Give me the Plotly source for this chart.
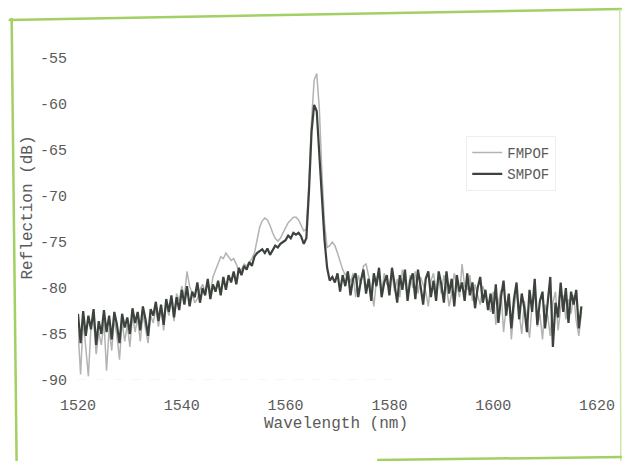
import plotly.graph_objects as go

# ---- data ----
wl_start = 1520.0
wl_step = 0.5

smpof = [
    -82.8, -86.0, -82.5, -85.2, -83.0, -84.5, -82.3, -86.2, -83.6, -85.0,
    -82.4, -84.8, -83.0, -85.6, -82.6, -84.0, -86.0, -82.8, -84.3, -83.2,
    -85.0, -82.2, -83.8, -82.6, -84.6, -82.0, -83.4, -85.2, -82.3, -83.0,
    -81.5, -83.6, -81.8, -84.0, -81.2, -82.6, -80.8, -83.2, -81.0, -82.4,
    -80.2, -81.8, -79.8, -82.0, -80.4, -81.0, -79.4, -81.6, -80.0, -80.8,
    -79.0, -81.2, -79.6, -80.4, -79.2, -80.8, -78.8, -80.2, -78.6, -79.4,
    -78.2, -79.6, -77.8, -78.6, -77.6, -78.0, -77.2, -77.6, -76.6, -76.2,
    -76.0, -75.8, -76.2, -75.7, -76.4, -75.9, -75.4, -75.6, -75.2, -75.0,
    -74.8, -74.3, -74.6, -74.0, -74.2, -74.0, -74.4, -75.2, -74.6, -69.5,
    -63.0, -60.1, -60.8, -65.5, -70.5, -74.8, -77.8, -79.2, -78.8, -79.4,
    -78.4, -80.4, -78.6, -79.8, -78.2, -80.8, -79.0, -78.4, -81.0, -79.2,
    -78.0, -80.6, -79.0, -81.4, -78.4, -79.8, -77.8, -81.0, -79.4, -78.6,
    -80.8, -77.8, -79.6, -81.6, -78.6, -80.2, -78.0, -81.4, -79.2, -78.4,
    -81.2, -78.0, -79.8, -81.8, -79.0, -78.2, -81.0, -79.2, -81.4, -78.2,
    -79.6, -81.6, -78.2, -80.6, -79.0, -82.0, -78.6, -80.4, -79.4, -81.4,
    -78.4, -80.8, -79.4, -82.2, -80.0, -78.8, -81.6, -80.2, -82.4, -80.6,
    -82.8, -79.6, -83.8, -81.0, -79.2, -83.0, -80.6, -84.4, -81.2, -79.4,
    -83.4, -80.6, -82.2, -84.8, -80.2, -82.6, -79.0, -84.0, -81.4, -80.4,
    -84.4, -81.2, -78.8, -86.4, -81.6, -83.2, -79.4, -82.6, -80.0, -83.8,
    -80.4, -81.8, -80.2, -84.4, -82.0,
]

fmpof = [
    -84.6, -89.4, -83.4, -86.6, -89.6, -84.2, -83.2, -87.2, -84.8, -86.2,
    -83.6, -89.0, -84.4, -86.8, -83.4, -85.2, -87.8, -83.6, -85.8, -84.0,
    -86.4, -83.0, -84.8, -83.2, -85.8, -82.8, -84.4, -86.0, -83.0, -83.8,
    -82.2, -84.2, -82.0, -84.6, -81.6, -83.0, -81.2, -83.6, -80.6, -81.4,
    -79.8, -81.0, -78.2, -79.8, -80.6, -81.6, -81.2, -80.2, -79.6, -80.4,
    -79.2, -80.6, -78.8, -78.0, -77.2, -76.6, -76.8, -76.2, -76.6, -77.0,
    -76.8, -77.4, -78.2, -78.0, -77.4, -77.6, -77.2, -76.8, -76.2, -74.6,
    -73.4, -72.7, -72.4, -72.6, -73.2, -74.0, -74.6, -74.9, -74.6, -74.0,
    -73.4, -72.9, -72.6, -72.3, -72.3, -72.6, -73.2, -73.8, -73.6, -68.5,
    -61.8, -57.4, -56.7, -60.5, -67.5, -73.0, -75.6, -75.4, -75.0, -75.4,
    -76.2, -77.2, -78.0, -78.6, -78.2, -79.4, -78.4, -81.0, -78.6, -79.6,
    -77.6, -77.4, -78.8, -80.0, -82.0, -79.2, -78.0, -80.6, -78.4, -79.6,
    -79.6, -78.4, -80.4, -79.0, -81.0, -78.0, -79.4, -80.8, -78.6, -80.0,
    -78.2, -80.6, -78.8, -79.6, -80.4, -82.0, -79.2, -78.4, -80.2, -79.0,
    -80.6, -78.6, -79.8, -82.0, -80.6, -78.4, -79.6, -81.0, -77.4, -79.8,
    -80.2, -78.6, -81.4, -79.6, -80.8, -81.8, -79.8, -80.6, -81.6, -82.6,
    -80.4, -84.0, -81.6, -80.2, -84.8, -82.0, -80.8, -85.6, -82.2, -80.4,
    -82.6, -85.0, -81.4, -83.2, -85.4, -81.8, -80.6, -84.2, -82.8, -85.6,
    -81.8, -83.0, -85.2, -81.6, -80.4, -84.6, -82.2, -80.8, -83.4, -81.2,
    -82.8, -80.8, -83.6, -85.2, -82.6,
]

wavelength = [wl_start + wl_step * i for i in range(len(smpof))]

x_ticks = [1520, 1540, 1560, 1580, 1600, 1620]
y_ticks = [-55, -60, -65, -70, -75, -80, -85, -90]
y_ticktext = ["-55", "-60", "-65", "-70", "-75", "-80", "-85", "-90"]

FONT = "Liberation Mono, DejaVu Sans Mono, monospace"
TXT = "#5a5a5a"

fig = go.Figure()
fig.add_trace(go.Scatter(x=wavelength, y=fmpof, mode="lines", name="FMPOF",
                         line=dict(color="#b3b3b3", width=1.5)))
fig.add_trace(go.Scatter(x=wavelength, y=smpof, mode="lines", name="SMPOF",
                         line=dict(color="#3c423c", width=2.2)))

W, H = 627, 461
L, R, T, B = 78, 25, 58, 81
pw, ph = W - L - R, H - T - B


def px(x):
    return (x - L) / pw


def py(y):
    return (H - B - y) / ph


green = "#a2d062"
shapes = [
    dict(type="line", xref="paper", yref="paper", x0=px(8), y0=py(20), x1=px(627), y1=py(9),
         line=dict(color=green, width=2.5)),
    dict(type="line", xref="paper", yref="paper", x0=px(11), y0=py(18), x1=px(16), y1=py(461),
         line=dict(color=green, width=2.5)),
    dict(type="line", xref="paper", yref="paper", x0=px(625), y0=py(9), x1=px(626), y1=py(461),
         line=dict(color="#cfe6a8", width=1.5)),
    dict(type="line", xref="paper", yref="paper", x0=px(380), y0=py(460), x1=px(627), y1=py(457),
         line=dict(color=green, width=2.5)),
    dict(type="line", xref="x", yref="y", x0=1520, y0=-90, x1=1582, y1=-90,
         line=dict(color="#ececec", width=1, dash="dash")),
]

fig.update_layout(
    width=W, height=H,
    margin=dict(l=L, r=R, t=T, b=B),
    paper_bgcolor="white", plot_bgcolor="white",
    showlegend=True,
    legend=dict(x=px(470), y=py(136), xanchor="left", yanchor="top",
                bgcolor="white", bordercolor="#eeeeee", borderwidth=1,
                font=dict(family=FONT, size=14, color=TXT),
                itemwidth=30, tracegroupgap=0),
    xaxis=dict(range=[1520, 1620], tickvals=x_ticks, showgrid=False, zeroline=False,
               showline=False, ticks="", ticklabelstandoff=14,
               tickfont=dict(family=FONT, size=15, color=TXT)),
    yaxis=dict(range=[-90, -55], tickvals=y_ticks, ticktext=y_ticktext, showgrid=False,
               zeroline=False, showline=False, ticks="", ticklabelstandoff=10,
               tickfont=dict(family=FONT, size=15, color=TXT)),
    shapes=shapes,
    annotations=[
        dict(text="Wavelength (nm)", xref="paper", yref="paper", x=px(338), y=py(424),
             xanchor="center", yanchor="middle", showarrow=False,
             font=dict(family=FONT, size=16, color=TXT)),
        dict(text="Reflection (dB)", xref="paper", yref="paper", x=px(28), y=py(207),
             xanchor="center", yanchor="middle", showarrow=False, textangle=-90,
             font=dict(family=FONT, size=16, color=TXT)),
    ],
)

fig.write_html("out.html")
